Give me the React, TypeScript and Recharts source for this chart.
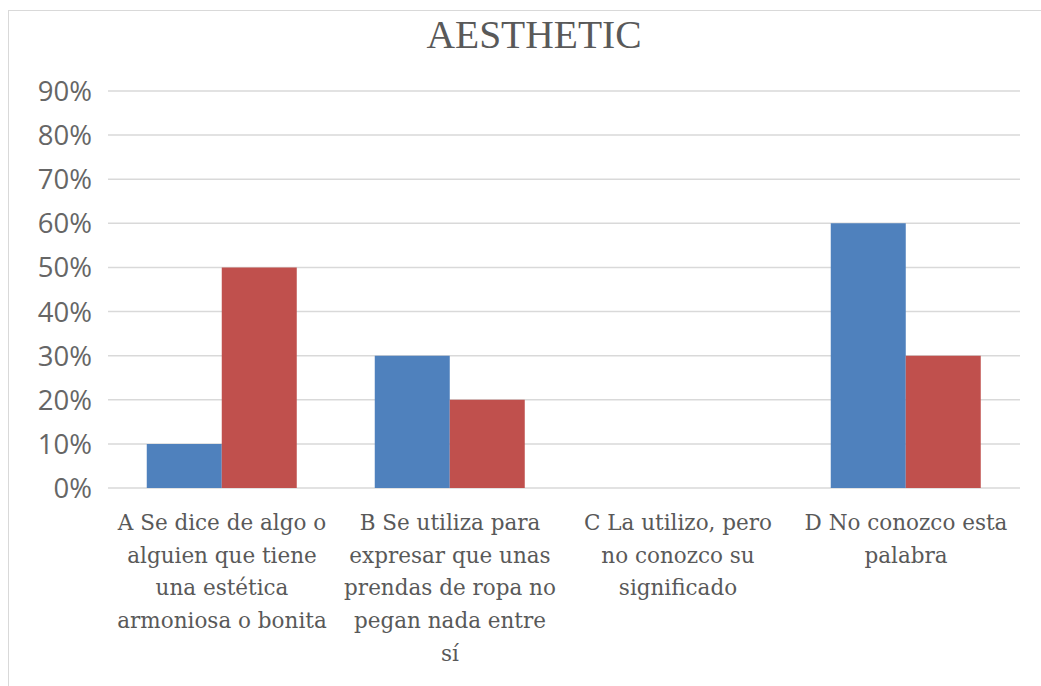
import React from 'react';
import { BarChart, Bar, XAxis, YAxis, CartesianGrid } from 'recharts';

const categories = ['A', 'B', 'C', 'D'];
const tickLines: string[][] = [
  ['A Se dice de algo o', 'alguien que tiene', 'una estética', 'armoniosa o bonita'],
  ['B Se utiliza para', 'expresar que unas', 'prendas de ropa no', 'pegan nada entre', 'sí'],
  ['C La utilizo, pero', 'no conozco su', 'significado'],
  ['D No conozco esta', 'palabra'],
];
const series1 = [0.1, 0.3, 0, 0.6];
const series2 = [0.5, 0.2, 0, 0.3];
const yTicks = [0, 0.1, 0.2, 0.3, 0.4, 0.5, 0.6, 0.7, 0.8, 0.9];

const data = categories.map((c, i) => ({ name: c, s1: series1[i], s2: series2[i] }));

const XTick = (props: any) => {
  const { x, y, payload } = props;
  const lines = tickLines[payload.index] || [];
  return (
    <text x={x} y={y} textAnchor="middle" fill="#595959" fontFamily="'DejaVu Serif'" fontSize={21.5}>
      {lines.map((l, i) => (
        <tspan key={i} x={x} y={y + 42 + i * 32.7}>{l}</tspan>
      ))}
    </text>
  );
};

const YTick = (props: any) => {
  const { x, y, payload } = props;
  return (
    <text x={x} y={y} dy={10} textAnchor="end" fill="#666666" fontFamily="'Open Sans'" fontSize={27.5}>
      {Math.round(payload.value * 100) + '%'}
    </text>
  );
};

export default function App() {
  return (
    <div style={{ position: 'absolute', left: 0, top: 0, width: 1041, height: 686, overflow: 'hidden', background: '#fff' }}>
      <div style={{ position: 'absolute', left: 8, top: 10, width: 1100, height: 700, border: '1.5px solid #d9d9d9', boxSizing: 'border-box' }} />
      <div style={{ position: 'absolute', left: 0, top: 0 }}>
        <BarChart
          width={1041}
          height={686}
          data={data}
          margin={{ top: 91, right: 21, left: 8, bottom: 8 }}
          barCategoryGap="17%"
          barGap={0}
        >
          <CartesianGrid vertical={false} stroke="#d9d9d9" strokeWidth={1.5} />
          <XAxis dataKey="name" axisLine={false} tickLine={false} height={190} tick={<XTick />} interval={0} tickSize={0} tickMargin={0} />
          <YAxis
            domain={[0, 0.9]}
            ticks={yTicks}
            axisLine={false}
            tickLine={false}
            width={100}
            tickSize={0}
            tickMargin={16}
            tick={<YTick />}
            interval={0}
          />
          <Bar dataKey="s1" fill="#4F81BD" isAnimationActive={false} />
          <Bar dataKey="s2" fill="#C0504D" isAnimationActive={false} />
        </BarChart>
      </div>
      <svg style={{ position: 'absolute', left: 0, top: 0 }} width={1041} height={80}>
        <text x={534} y={47.5} textAnchor="middle" fill="#595959" fontFamily="'Liberation Serif'" fontSize={39} textLength={215} lengthAdjust="spacingAndGlyphs">
          AESTHETIC
        </text>
      </svg>
    </div>
  );
}
